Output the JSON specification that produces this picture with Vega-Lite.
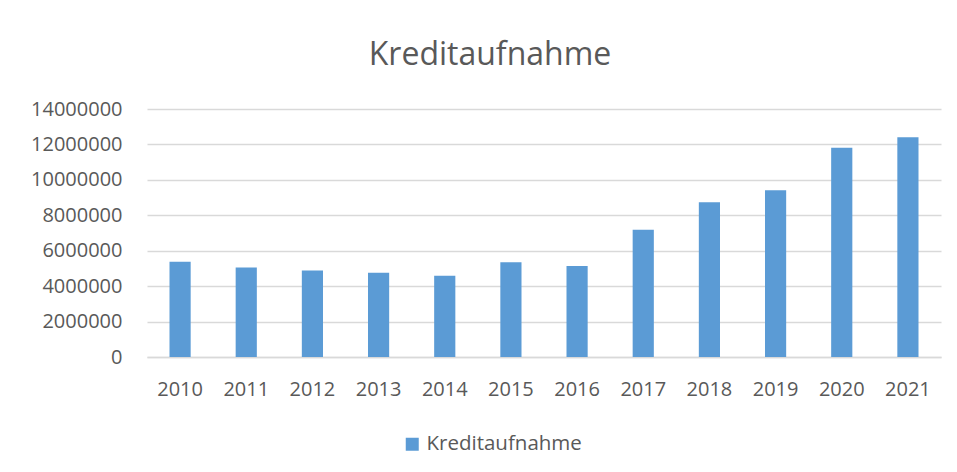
{
  "$schema": "https://vega.github.io/schema/vega-lite/v6.json",
  "autosize": {"type": "none"},
  "width": 794,
  "height": 248,
  "padding": {"left": 147, "top": 109, "right": 16, "bottom": 115},
  "background": "white",
  "title": {
    "text": "Kreditaufnahme",
    "font": "Open Sans",
    "fontSize": 32,
    "fontWeight": "normal",
    "color": "#595959",
    "anchor": "middle",
    "dx": -54,
    "offset": 27
  },
  "data": {
    "values": [
      {"Jahr": "2010", "Kreditaufnahme": 5380000},
      {"Jahr": "2011", "Kreditaufnahme": 5050000},
      {"Jahr": "2012", "Kreditaufnahme": 4880000},
      {"Jahr": "2013", "Kreditaufnahme": 4750000},
      {"Jahr": "2014", "Kreditaufnahme": 4590000},
      {"Jahr": "2015", "Kreditaufnahme": 5350000},
      {"Jahr": "2016", "Kreditaufnahme": 5140000},
      {"Jahr": "2017", "Kreditaufnahme": 7180000},
      {"Jahr": "2018", "Kreditaufnahme": 8740000},
      {"Jahr": "2019", "Kreditaufnahme": 9420000},
      {"Jahr": "2020", "Kreditaufnahme": 11810000},
      {"Jahr": "2021", "Kreditaufnahme": 12410000}
    ]
  },
  "mark": {"type": "bar"},
  "encoding": {
    "x": {
      "field": "Jahr",
      "type": "ordinal",
      "scale": {"paddingInner": 0.68, "paddingOuter": 0.34},
      "axis": {
        "title": null,
        "labelAngle": 0,
        "ticks": false,
        "domain": true,
        "domainColor": "#d9d9d9",
        "domainWidth": 1.3,
        "labelFont": "Open Sans",
        "labelFontSize": 20,
        "labelColor": "#595959",
        "labelPadding": 22
      }
    },
    "y": {
      "field": "Kreditaufnahme",
      "type": "quantitative",
      "scale": {"domain": [0, 14000000], "nice": false},
      "axis": {
        "title": null,
        "values": [0, 2000000, 4000000, 6000000, 8000000, 10000000, 12000000, 14000000],
        "format": "d",
        "ticks": false,
        "domain": false,
        "grid": true,
        "gridColor": "#d9d9d9",
        "gridWidth": 1.3,
        "labelFont": "Open Sans",
        "labelFontSize": 20,
        "labelColor": "#595959",
        "labelPadding": 25
      }
    },
    "color": {
      "datum": "Kreditaufnahme",
      "type": "nominal",
      "scale": {"range": ["#5b9bd5"]},
      "legend": {
        "title": null,
        "orient": "none",
        "legendX": 255,
        "legendY": 325,
        "symbolType": "square",
        "symbolSize": 169,
        "symbolStrokeWidth": 0,
        "labelFont": "Open Sans",
        "labelFontSize": 20.5,
        "labelColor": "#595959",
        "labelOffset": 4
      }
    }
  },
  "config": {
    "view": {"stroke": null},
    "axis": {"labelFlush": false}
  }
}
